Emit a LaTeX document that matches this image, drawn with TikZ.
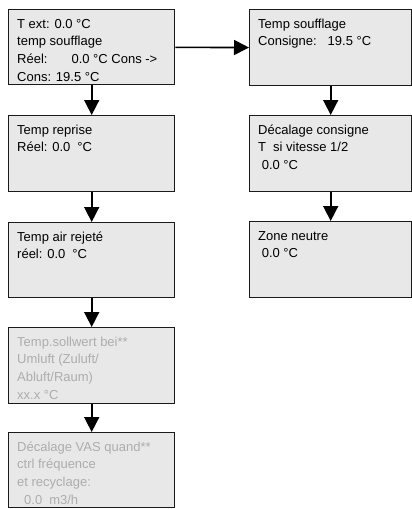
\documentclass[tikz,border=0pt]{standalone}
\usepackage{fontspec}
\setmainfont{Liberation Sans}
\usetikzlibrary{arrows.meta}
\definecolor{PanelGrey}{HTML}{E8E8E8}
\definecolor{Frame}{HTML}{1A1A1A}
\definecolor{Faded}{HTML}{ADADAD}
\newcommand{\paneltext}[3]{%
  \parbox[c][#2][t]{#1}{\raggedright\rule{0pt}{18.5pt}\ignorespaces#3}%
}
\newcommand{\gap}[1]{\hspace*{#1}}

\begin{document}
\begin{tikzpicture}[x=1pt,y=-1pt,line cap=butt,line join=miter,
    panel/.style={draw=Frame,line width=1.4pt,fill=PanelGrey,
      anchor=north west,inner xsep=8.5pt,inner ysep=0pt,
      font=\fontsize{13}{17.7}\selectfont},
    faded/.style={panel,text=Faded},
    flow/.style={draw=black,line width=1.6pt,
      -{Triangle[width=15pt,length=15pt]}}]
  \useasboundingbox (0,0) rectangle (412,509);
  % left column
  \node[panel] (ext) at (8,9) {\paneltext{149pt}{75pt}{%
    T ext: 0.0 °C\\
    temp soufflage\\
    Réel:\gap{24pt}0.0 °C Cons ->\\
    Cons: 19.5 °C}};
  \node[panel] (reprise) at (8,115) {\paneltext{149pt}{76pt}{%
    Temp reprise\\
    Réel: 0.0\gap{7pt}°C}};
  \node[panel] (rejete) at (8,222) {\paneltext{149pt}{75pt}{%
    Temp air rejeté\\
    réel: 0.0\gap{7pt}°C}};
  \node[faded] (sollwert) at (8,327) {\paneltext{149pt}{76pt}{%
    Temp.sollwert bei**\\
    Umluft (Zuluft/\\
    Abluft/Raum)\\
    xx.x °C}};
  \node[faded] (vas) at (8,432) {\paneltext{149pt}{75pt}{%
    Décalage VAS quand**\\
    ctrl fréquence\\
    et recyclage:\\
    \gap{7pt}0.0\gap{7pt}m3/h}};
  % right column
  \node[panel] (consigne) at (249,9) {\paneltext{145pt}{76pt}{%
    Temp soufflage\\
    Consigne:\gap{11pt}19.5 °C}};
  \node[panel] (decalage) at (249,115) {\paneltext{145pt}{76pt}{%
    Décalage consigne\\
    T\gap{7pt}si vitesse 1/2\\
    \gap{3.6pt}0.0 °C}};
  \node[panel] (neutre) at (249,221) {\paneltext{145pt}{76pt}{%
    Zone neutre\\
    \gap{3.6pt}0.0 °C}};
  % connectors
  \draw[flow] (ext) -- (reprise);
  \draw[flow] (reprise) -- (rejete);
  \draw[flow] (rejete) -- (sollwert);
  \draw[flow] (sollwert) -- (vas);
  \draw[flow] (ext) -- (consigne);
  \draw[flow] (consigne) -- (decalage);
  \draw[flow] (decalage) -- (neutre);
\end{tikzpicture}
\end{document}
